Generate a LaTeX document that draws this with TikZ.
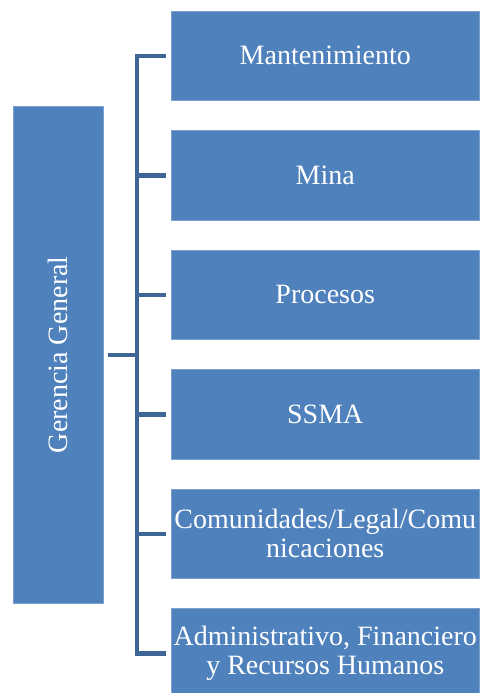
\documentclass[tikz,border=0pt]{standalone}
\usepackage{fontspec}
\setmainfont{Liberation Serif}
\usepackage{xcolor}
\usepackage{tikz}
\usetikzlibrary{positioning}

\definecolor{boxblue}{HTML}{4F81BD}
\definecolor{boxedge}{HTML}{7BA0CE}
\definecolor{linkblue}{HTML}{3D6696}

\begin{document}
\begin{tikzpicture}[
    x=1pt, y=-1pt,
    node distance=29.9pt,
    unit/.style={draw=boxedge, line width=0.7pt, fill=boxblue, text=white, inner sep=0pt, outer sep=0pt,
        minimum width=307.5pt, minimum height=89.6pt, align=center, font=\fontsize{28}{29}\selectfont},
    head/.style={unit, minimum width=90pt, minimum height=497.5pt},
    branch/.style={draw=linkblue, line width=4.4pt}
]
\useasboundingbox (0,0) rectangle (480,693);
\clip (0,0) rectangle (480,693);

\node[head] (gerencia) at (58,354.75) {\rotatebox{90}{Gerencia General}};

\node[unit] (mant) at (325.25,55.8) {Mantenimiento};
\node[unit, below=of mant] (mina) {Mina};
\node[unit, below=of mina] (proc) {Procesos};
\node[unit, below=of proc] (ssma) {SSMA};
\node[unit, below=of ssma] (comun) {Comunidades/Legal/Comu\\nicaciones};
\node[unit, below=of comun] (admin) {Administrativo, Financiero\\y Recursos Humanos};

% bracket joining the departments
\draw[branch] ([xshift=-5.5pt]mant.west) -| ([xshift=-34.5pt]admin.west) -- ([xshift=-5.5pt]admin.west);
\foreach \n in {mina,proc,ssma,comun}
    \draw[branch] ([xshift=-5.5pt]\n.west) -- ([xshift=-34.5pt]\n.west);
\draw[branch] ([xshift=5pt]gerencia.east) -- ++(29pt,0);

\end{tikzpicture}
\end{document}
